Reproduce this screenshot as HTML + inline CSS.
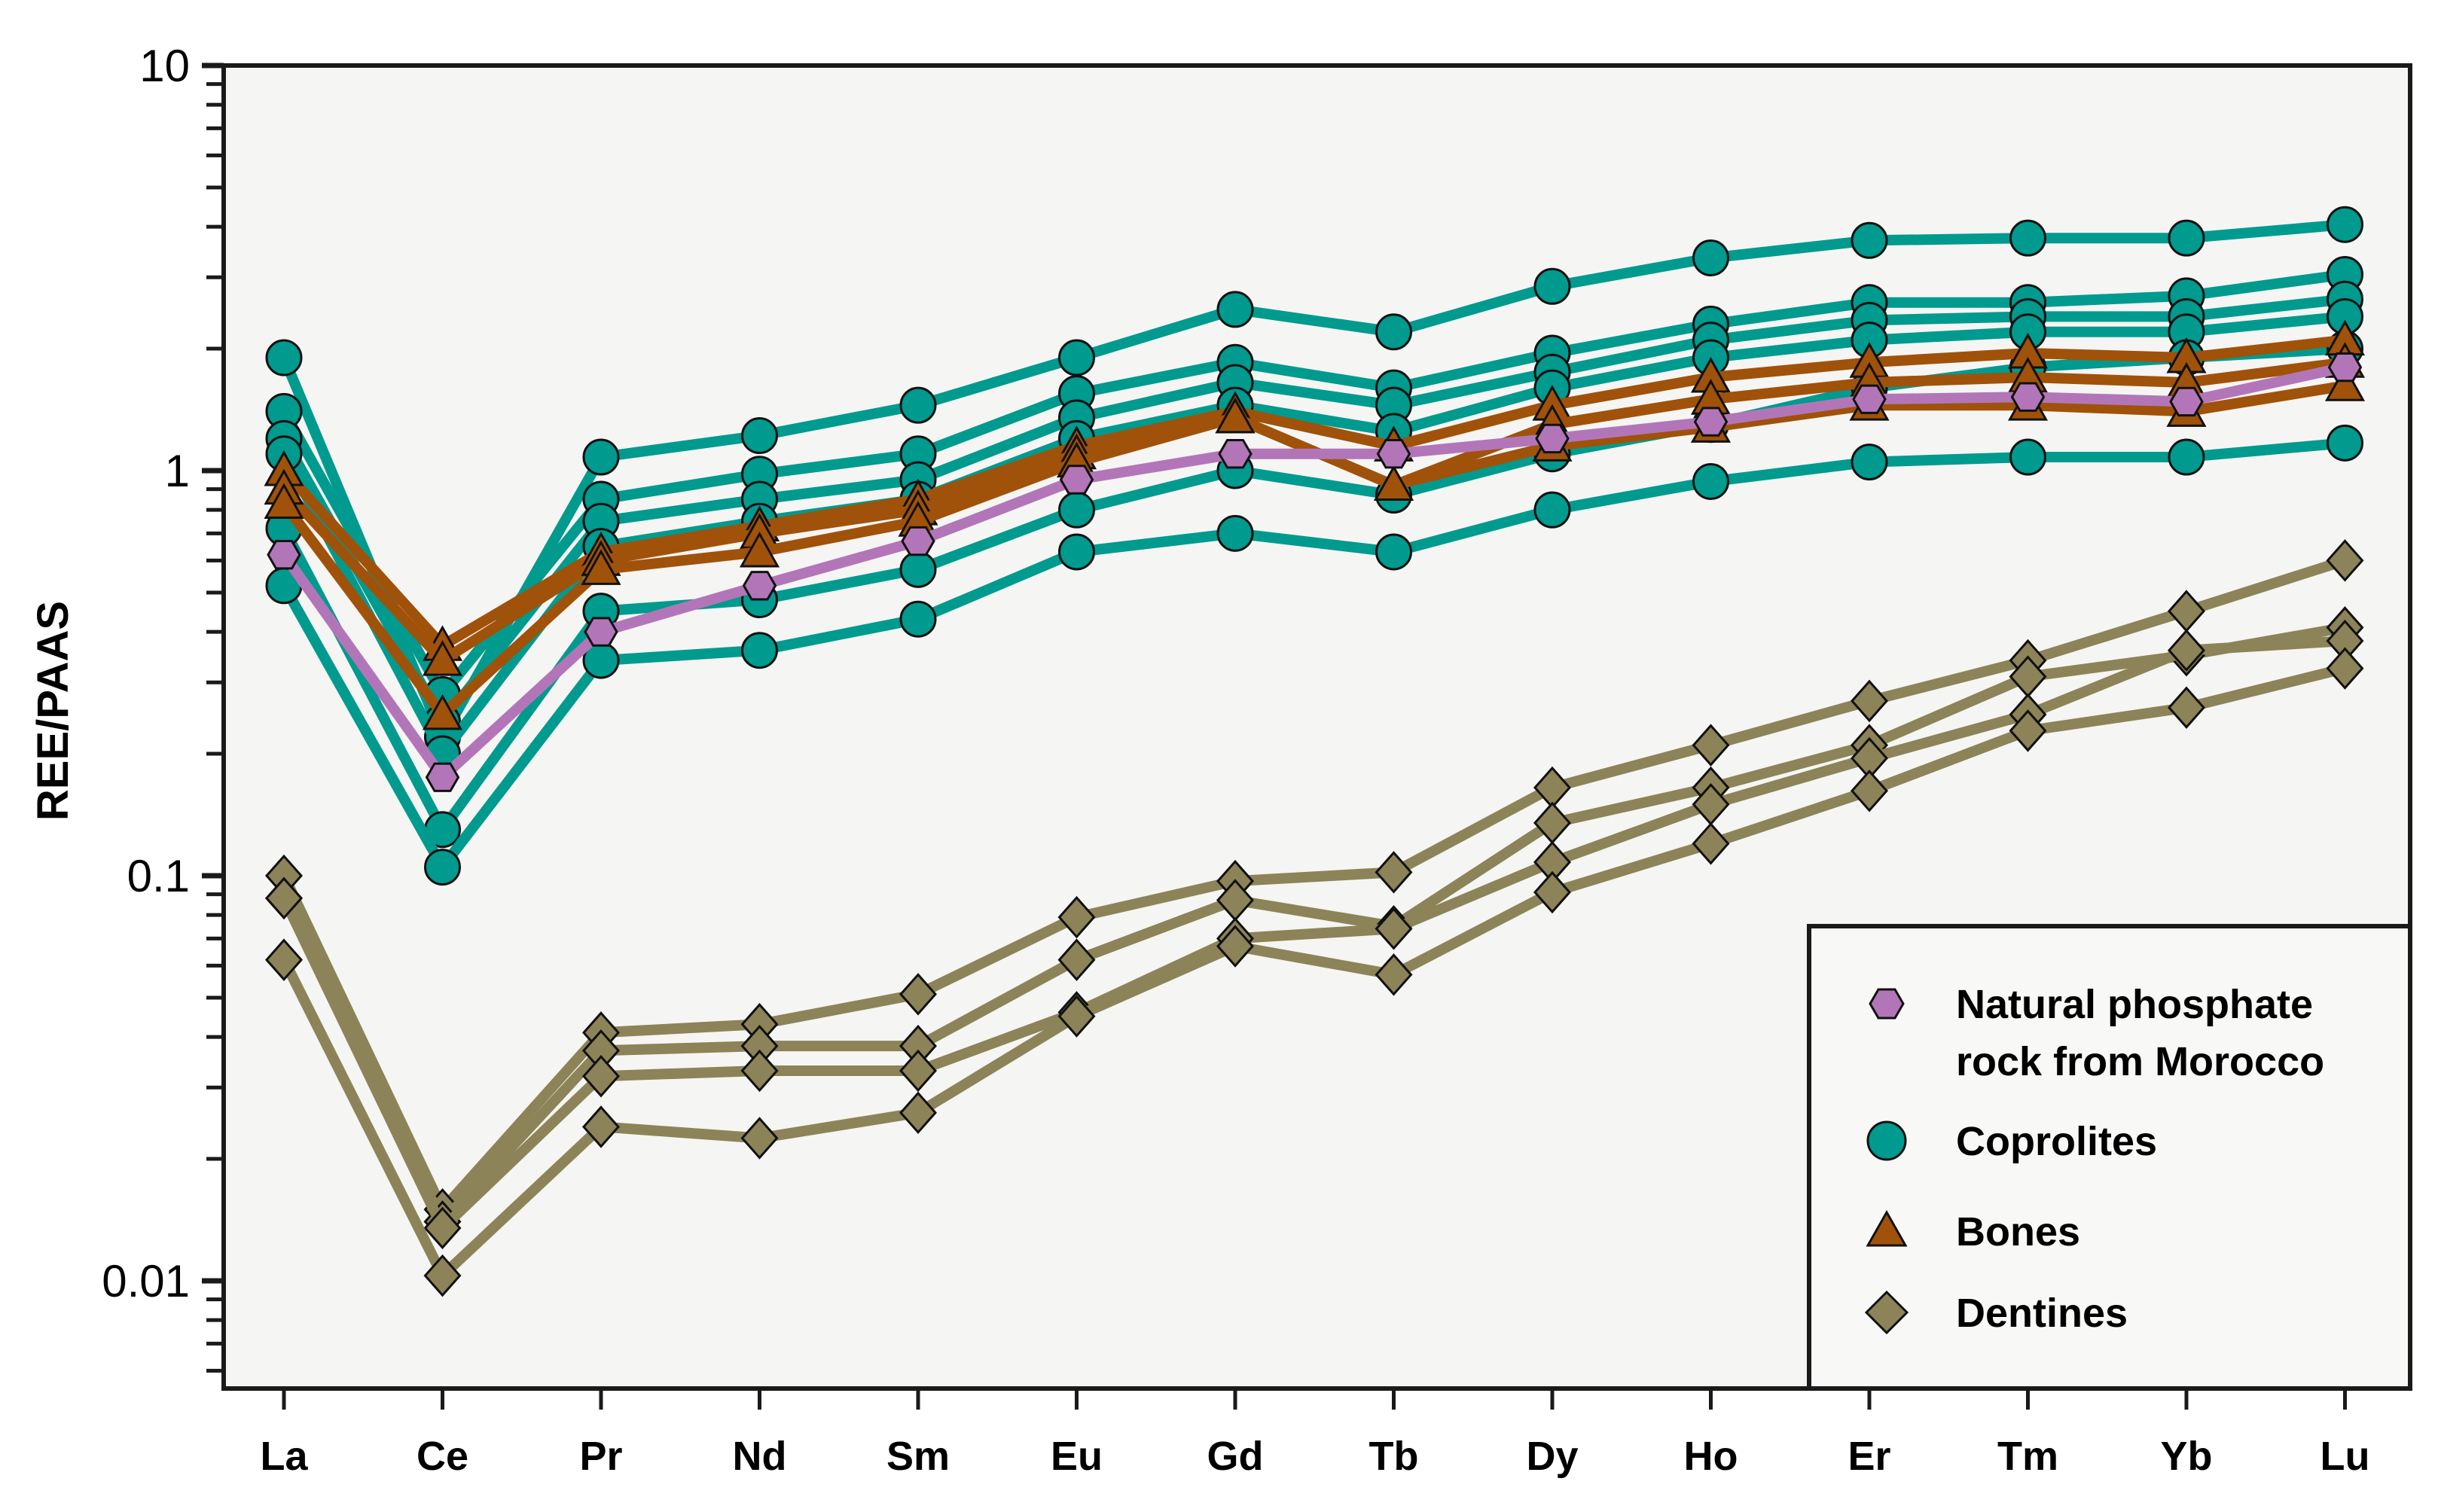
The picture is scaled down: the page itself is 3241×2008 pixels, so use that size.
<!DOCTYPE html>
<html><head><meta charset="utf-8"><style>
html,body{margin:0;padding:0;background:#fff;}
svg{display:block;font-family:"Liberation Sans",sans-serif;}
</style></head><body>
<svg id="chart" width="3241" height="2008" viewBox="0 0 3241 2008">
<rect x="297" y="87" width="2903" height="1757" fill="#f5f5f3"/>
<g id="marks"></g>
<g id="axes"></g>
<g>
<rect x="2402" y="1230" width="798" height="614" fill="#f8f8f7" stroke="#1a1a1a" stroke-width="6"/>
<polygon points="2483,1333 2494,1314 2516,1314 2527,1333 2516,1352 2494,1352" fill="#b276b8" stroke="#111" stroke-width="3"/>
<text x="2597" y="1352" font-size="54" font-weight="bold">Natural phosphate</text>
<text x="2597" y="1428" font-size="54" font-weight="bold">rock from Morocco</text>
<circle cx="2505" cy="1515" r="25" fill="#009a8e" stroke="#111" stroke-width="3"/>
<text x="2597" y="1534" font-size="54" font-weight="bold">Coprolites</text>
<polygon points="2505,1610 2530,1654 2480,1654" fill="#a0520a" stroke="#111" stroke-width="3"/>
<text x="2597" y="1654" font-size="54" font-weight="bold">Bones</text>
<polygon points="2505,1716 2532,1743 2505,1770 2478,1743" fill="#8c8358" stroke="#111" stroke-width="3"/>
<text x="2597" y="1762" font-size="54" font-weight="bold">Dentines</text>
</g>
<text transform="translate(90,944) rotate(-90)" text-anchor="middle" font-size="58" font-weight="bold">REE/PAAS</text>
</svg>
<script>
const categories = ["La","Ce","Pr","Nd","Sm","Eu","Gd","Tb","Dy","Ho","Er","Tm","Yb","Lu"];
const yTickValues = [10,1,0.1,0.01];
const yTickLabels = ["10","1","0.1","0.01"];
const coprolites = [
 [1.9,0.22,1.08,1.22,1.45,1.9,2.5,2.2,2.85,3.35,3.7,3.75,3.75,4.05],
 [1.4,0.28,0.85,0.98,1.1,1.55,1.85,1.6,1.95,2.3,2.6,2.6,2.7,3.05],
 [1.2,0.24,0.75,0.85,0.95,1.35,1.65,1.45,1.75,2.1,2.35,2.4,2.4,2.65],
 [1.1,0.2,0.65,0.75,0.85,1.2,1.45,1.25,1.6,1.9,2.1,2.2,2.2,2.4],
 [0.72,0.13,0.45,0.48,0.57,0.8,1.0,0.87,1.1,1.3,1.6,1.8,1.9,2.0],
 [0.52,0.105,0.34,0.36,0.43,0.63,0.7,0.63,0.8,0.94,1.05,1.08,1.08,1.17]
];
const bones = [
 [1.0,0.37,0.63,0.73,0.85,1.15,1.4,1.15,1.45,1.7,1.85,1.95,1.9,2.1],
 [0.9,0.34,0.6,0.7,0.8,1.1,1.35,0.92,1.3,1.5,1.65,1.7,1.65,1.85],
 [0.83,0.25,0.57,0.63,0.75,1.05,1.35,0.92,1.15,1.28,1.45,1.45,1.4,1.62]
];
const phosphate = [
 [0.62,0.175,0.4,0.52,0.67,0.95,1.1,1.1,1.2,1.32,1.5,1.52,1.48,1.8]
];
const dentines = [
 [0.1,0.015,0.041,0.043,0.051,0.079,0.097,0.102,0.165,0.21,0.27,0.34,0.45,0.6],
 [0.088,0.014,0.037,0.038,0.038,0.062,0.087,0.075,0.135,0.165,0.21,0.31,0.35,0.41],
 [0.088,0.0135,0.032,0.033,0.033,0.046,0.07,0.074,0.108,0.15,0.195,0.25,0.36,0.38],
 [0.062,0.0103,0.024,0.0225,0.026,0.045,0.067,0.057,0.091,0.12,0.162,0.228,0.26,0.325]
];
const NS="http://www.w3.org/2000/svg";
const X0=377, DX=210.5, Y10=87, DEC=538;
function xs(i){return X0+i*DX;}
function ys(v){return Y10+(1-Math.log10(v))*DEC;}
function mk(tag,attrs,parent){const e=document.createElementNS(NS,tag);for(const k in attrs)e.setAttribute(k,attrs[k]);parent.appendChild(e);return e;}
const marks=document.getElementById('marks');
const axes=document.getElementById('axes');
function marker(shape,cx,cy,fill,g){
 let e;
 if(shape==='circle'){e=mk('circle',{cx:cx,cy:cy,r:23,fill:fill,stroke:'#111','stroke-width':3},g);}
 else if(shape==='tri'){e=mk('polygon',{points:`${cx},${cy-24} ${cx+24},${cy+19} ${cx-24},${cy+19}`,fill:fill,stroke:'#111','stroke-width':3},g);}
 else if(shape==='hex'){const r=21;let p=[];for(let k=0;k<6;k++){const a=k*Math.PI/3;p.push((cx+r*Math.cos(a)).toFixed(1)+','+(cy+r*Math.sin(a)).toFixed(1));}e=mk('polygon',{points:p.join(' '),fill:fill,stroke:'#111','stroke-width':3},g);}
 else {e=mk('polygon',{points:`${cx},${cy-26} ${cx+23},${cy} ${cx},${cy+26} ${cx-23},${cy}`,fill:fill,stroke:'#111','stroke-width':3},g);}
 return e;
}
function drawGroup(data,color,shape,name){
 data.forEach((s,si)=>{
  const g=mk('g',{},marks);
  
  
  const pts=s.map((v,i)=>xs(i).toFixed(1)+','+ys(v).toFixed(1)).join(' ');
  const l=mk('polyline',{points:pts,fill:'none',stroke:color,'stroke-width':14,'stroke-linejoin':'round'},g);
  
  
  s.forEach((v,i)=>{
   const m=marker(shape,xs(i),ys(v),color,g);
   
   
  });
 });
}
drawGroup(dentines,'#8c8358','dia','dentines');
drawGroup(coprolites,'#009a8e','circle','coprolites');
drawGroup(bones,'#a0520a','tri','bones');
drawGroup(phosphate,'#b276b8','hex','phosphate');
const fr=mk('rect',{x:297,y:87,width:2903,height:1757,fill:'none',stroke:'#1a1a1a','stroke-width':6},axes);


for(let d=-3;d<=0;d++){
 for(let m=1;m<10;m++){
  const v=m*Math.pow(10,d);
  const y=ys(v);
  if(y>1844||y<86)continue;
  const t=mk('line',{x1:m===1?268:274,x2:297,y1:y,y2:y,stroke:'#1a1a1a','stroke-width':m===1?7:5},axes);
  
  
 }
}
const t10=mk('line',{x1:268,x2:297,y1:ys(10),y2:ys(10),stroke:'#1a1a1a','stroke-width':7},axes);


yTickValues.forEach((v,i)=>{
 const t=mk('text',{x:252,y:ys(v)+21,'text-anchor':'end','font-size':60},axes);
 t.textContent=yTickLabels[i];
 
 
});
categories.forEach((c,i)=>{
 const tk=mk('line',{x1:xs(i),x2:xs(i),y1:1847,y2:1872,stroke:'#1a1a1a','stroke-width':5},axes);
 
 
 const t=mk('text',{x:xs(i),y:1952,'text-anchor':'middle','font-size':54,'font-weight':'bold'},axes);
 t.textContent=c;
 
 
});
</script>
</body></html>
